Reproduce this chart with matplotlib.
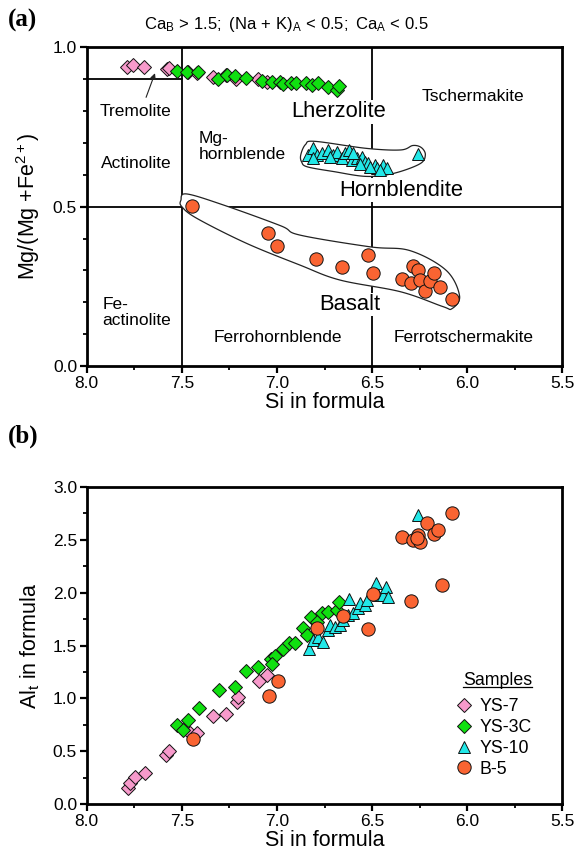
import matplotlib
matplotlib.use("Agg")
import matplotlib.pyplot as plt
import numpy as np
from matplotlib.lines import Line2D
from matplotlib.ticker import MultipleLocator, FormatStrFormatter

plt.rcParams['font.family'] = ['Liberation Sans', 'DejaVu Sans']
plt.rcParams['mathtext.fontset'] = 'custom'
plt.rcParams['mathtext.rm'] = 'Liberation Sans'
plt.rcParams['mathtext.it'] = 'Liberation Sans:italic'

# ---- panel (a): Si vs Mg/(Mg+Fe2+) ----
a_ys7_si = [7.79, 7.755, 7.70, 7.58, 7.565, 7.466, 7.42, 7.334, 7.27, 7.217, 7.10, 7.05]
a_ys7_mg = [0.939, 0.945, 0.937, 0.931, 0.934, 0.922, 0.918, 0.908, 0.913, 0.900, 0.900, 0.892]

a_ys3c_si = [7.527, 7.474, 7.413, 7.308, 7.264, 7.22, 7.164, 7.08, 7.028, 6.984, 6.97,
             6.928, 6.90, 6.847, 6.817, 6.782, 6.73, 6.683, 6.672]
a_ys3c_mg = [0.927, 0.924, 0.922, 0.900, 0.913, 0.910, 0.903, 0.895, 0.892, 0.892, 0.885,
             0.889, 0.889, 0.887, 0.882, 0.889, 0.877, 0.866, 0.880]

a_ys10_si = [6.835, 6.812, 6.791, 6.765, 6.73, 6.704, 6.686, 6.66, 6.642, 6.62, 6.607, 6.581,
             6.555, 6.537, 6.52, 6.485, 6.476, 6.441, 6.423, 6.809, 6.721, 6.598, 6.563,
             6.511, 6.458, 6.257]
a_ys10_mg = [0.662, 0.683, 0.662, 0.667, 0.678, 0.662, 0.673, 0.652, 0.667, 0.678, 0.646, 0.652,
             0.657, 0.641, 0.636, 0.631, 0.620, 0.631, 0.620, 0.652, 0.657, 0.667, 0.634,
             0.626, 0.615, 0.665]

a_b5_si = [7.445, 7.045, 6.998, 6.795, 6.656, 6.523, 6.497, 6.344, 6.283, 6.257, 6.297,
           6.248, 6.222, 6.196, 6.175, 6.143, 6.082]
a_b5_mg = [0.502, 0.416, 0.378, 0.335, 0.310, 0.348, 0.291, 0.272, 0.314, 0.301, 0.261,
           0.270, 0.236, 0.268, 0.293, 0.249, 0.209]

# field outlines drawn round the YS-10 and B-5 groups
hbl_env_si = [6.875, 6.85, 6.80, 6.53, 6.35, 6.285, 6.24, 6.22, 6.25, 6.39, 6.53, 6.70, 6.84, 6.87]
hbl_env_mg = [0.662, 0.695, 0.705, 0.683, 0.678, 0.692, 0.685, 0.662, 0.634, 0.604, 0.595,
              0.610, 0.625, 0.640]
bas_env_si = [7.505, 7.475, 7.28, 6.98, 6.88, 6.51, 6.30, 6.11, 6.04, 6.08, 6.13, 6.35,
              6.67, 6.88, 7.16, 7.42, 7.50]
bas_env_mg = [0.52, 0.54, 0.505, 0.44, 0.411, 0.374, 0.362, 0.30, 0.22, 0.18, 0.187, 0.233,
              0.27, 0.317, 0.385, 0.463, 0.50]

# ---- panel (b): Si vs Al_t ----
b_ys7_si = [7.785, 7.772, 7.746, 7.693, 7.583, 7.566, 7.457, 7.422, 7.334, 7.27, 7.212,
            7.203, 7.094, 7.05]
b_ys7_al = [0.151, 0.199, 0.262, 0.299, 0.466, 0.507, 0.671, 0.671, 0.834, 0.853, 0.970,
            1.017, 1.168, 1.222]

b_ys3c_si = [7.527, 7.492, 7.466, 7.408, 7.304, 7.22, 7.163, 7.098, 7.033, 7.01, 6.97, 6.935,
             6.905, 6.861, 6.844, 6.823, 6.791, 6.765, 6.73, 6.686, 6.672, 7.028]
b_ys3c_al = [0.749, 0.702, 0.797, 0.913, 1.080, 1.105, 1.263, 1.300, 1.373, 1.401, 1.464, 1.527,
             1.521, 1.662, 1.599, 1.772, 1.725, 1.804, 1.820, 1.835, 1.914, 1.325]

b_ys10_si = [6.83, 6.809, 6.782, 6.756, 6.73, 6.721, 6.695, 6.668, 6.651, 6.624, 6.619, 6.598,
             6.572, 6.563, 6.537, 6.524, 6.479, 6.467, 6.441, 6.427, 6.414, 6.257]
b_ys10_al = [1.464, 1.552, 1.584, 1.536, 1.647, 1.694, 1.678, 1.694, 1.741, 1.788, 1.936, 1.804,
             1.851, 1.898, 1.883, 1.930, 2.087, 1.977, 1.977, 2.056, 1.961, 2.732]

b_b5_si = [7.443, 7.043, 6.996, 6.791, 6.655, 6.520, 6.493, 6.295, 6.134, 6.344, 6.283,
           6.257, 6.248, 6.213, 6.175, 6.152, 6.078, 6.266]
b_b5_al = [0.614, 1.023, 1.168, 1.669, 1.782, 1.656, 1.986, 1.920, 2.071, 2.528, 2.496,
           2.544, 2.481, 2.660, 2.553, 2.591, 2.754, 2.512]

samples = ["YS-7", "YS-3C", "YS-10", "B-5"]
markers = ["D", "D", "^", "o"]
sizes = [7.0, 7.0, 8.8, 9.6]
colours = ["#F79ACB", "#10E010", "#22E8E8", "#FA6432"]


def smooth_closed(xs, ys, n=24):
    # closed Catmull-Rom curve through the outline points
    p = np.column_stack([xs, ys])
    k = len(p)
    t = np.linspace(0, 1, n, endpoint=False)[:, None]
    segs = []
    for i in range(k):
        p0, p1, p2, p3 = p[i - 1], p[i], p[(i + 1) % k], p[(i + 2) % k]
        segs.append(0.5 * (2 * p1 + (-p0 + p2) * t + (2 * p0 - 5 * p1 + 4 * p2 - p3) * t ** 2
                           + (-p0 + 3 * p1 - 3 * p2 + p3) * t ** 3))
    return np.vstack(segs)


def style_axes(ax):
    for s in ax.spines.values():
        s.set_linewidth(2.0)
    ax.tick_params(which='both', direction='out', top=False, right=False, labelsize=12.5, pad=2)
    ax.tick_params(which='major', length=5, width=1.6)
    ax.tick_params(which='minor', length=3, width=1.3)
    ax.set_xlim(8.0, 5.5)
    ax.xaxis.set_major_locator(MultipleLocator(0.5))
    ax.xaxis.set_minor_locator(MultipleLocator(0.25))
    ax.xaxis.set_major_formatter(FormatStrFormatter('%.1f'))
    ax.yaxis.set_major_formatter(FormatStrFormatter('%.1f'))
    ax.set_xlabel("Si in formula", fontsize=15.5, labelpad=1)


def main():
    fig = plt.figure(figsize=(5.77, 8.56), dpi=100)

    # ---------- (a) ----------
    ax = fig.add_axes([0.1503, 0.5724, 0.8242, 0.3723])
    style_axes(ax)
    ax.set_ylim(0, 1.0)
    ax.yaxis.set_major_locator(MultipleLocator(0.5))
    ax.yaxis.set_minor_locator(MultipleLocator(0.1))
    ax.set_ylabel(r"Mg/(Mg +Fe$^{2+}$)", fontsize=15.5, labelpad=8)

    lw = 1.3
    ax.plot([8.0, 7.5], [0.9, 0.9], c='k', lw=lw, zorder=1)
    ax.plot([7.5, 7.5], [0, 1], c='k', lw=lw, zorder=1)
    ax.plot([8.0, 5.5], [0.5, 0.5], c='k', lw=lw, zorder=1)
    ax.plot([6.5, 6.5], [0, 1], c='k', lw=lw, zorder=1)

    for xs, ys in [(hbl_env_si, hbl_env_mg), (bas_env_si, bas_env_mg)]:
        c = smooth_closed(xs, ys)
        ax.fill(c[:, 0], c[:, 1], facecolor='white', edgecolor='#222222', lw=0.9, zorder=2)

    small = 12.5
    ax.text(7.741, 0.798, "Tremolite", fontsize=small, ha='center', va='center', zorder=3)
    ax.text(7.737, 0.636, "Actinolite", fontsize=small, ha='center', va='center', zorder=3)
    ax.text(7.916, 0.169, "Fe-\nactinolite", fontsize=small, ha='left', va='center',
            linespacing=1.1, zorder=3)
    ax.text(7.41, 0.688, "Mg-\nhornblende", fontsize=small, ha='left', va='center',
            linespacing=1.1, zorder=3)
    ax.text(5.971, 0.845, "Tschermakite", fontsize=small, ha='center', va='center', zorder=3)
    ax.text(6.994, 0.089, "Ferrohornblende", fontsize=small, ha='center', va='center', zorder=3)
    ax.text(6.02, 0.089, "Ferrotschermakite", fontsize=small, ha='center', va='center', zorder=3)

    big_box = dict(facecolor='white', edgecolor='none', pad=1.0)
    ax.text(6.674, 0.798, "Lherzolite", fontsize=15.8, ha='center', va='center',
            bbox=big_box, zorder=3)
    ax.text(6.344, 0.552, "Hornblendite", fontsize=15.8, ha='center', va='center',
            bbox=big_box, zorder=3)
    ax.text(6.618, 0.193, "Basalt", fontsize=15.8, ha='center', va='center',
            bbox=big_box, zorder=3)

    ax.annotate("", xy=(7.636, 0.927), xytext=(7.693, 0.835),
                arrowprops=dict(arrowstyle='-|>', color='#222222', lw=0.8, mutation_scale=8),
                zorder=3)

    a_sets = [(a_ys7_si, a_ys7_mg), (a_ys3c_si, a_ys3c_mg), (a_ys10_si, a_ys10_mg),
              (a_b5_si, a_b5_mg)]
    for i, (xs, ys) in enumerate(a_sets):
        ax.plot(xs, ys, ls='none', marker=markers[i], ms=sizes[i], mfc=colours[i],
                mec='#111111', mew=0.7, zorder=4 + i, clip_on=False)

    fig.text(287 / 577, 1 - 25 / 856,
             r"$\mathrm{Ca_B\,>\,1.5;\ (Na\,+\,K)_A\,<\,0.5;\ Ca_A\,<\,0.5}$",
             fontsize=12, ha='center', va='center')
    fig.text(8 / 577, 1 - 20 / 856, "(a)", family='Liberation Serif', weight='bold',
             fontsize=18, ha='left', va='center')

    # ---------- (b) ----------
    ax = fig.add_axes([0.1503, 0.0604, 0.8242, 0.3710])
    style_axes(ax)
    ax.set_ylim(0, 3.0)
    ax.yaxis.set_major_locator(MultipleLocator(0.5))
    ax.yaxis.set_minor_locator(MultipleLocator(0.25))
    ax.set_ylabel(r"Al$_\mathrm{t}$ in formula", fontsize=15.5, labelpad=8)

    b_sets = [(b_ys7_si, b_ys7_al), (b_ys3c_si, b_ys3c_al), (b_ys10_si, b_ys10_al),
              (b_b5_si, b_b5_al)]
    handles = []
    for i, (xs, ys) in enumerate(b_sets):
        h, = ax.plot(xs, ys, ls='none', marker=markers[i], ms=sizes[i], mfc=colours[i],
                     mec='#111111', mew=0.7, zorder=4 + i, label=samples[i])
        handles.append(h)

    ax.legend(handles=handles, loc='upper left', bbox_to_anchor=(0.775, 0.335),
              frameon=False, fontsize=12.8, handlelength=1.0, handletextpad=0.35,
              labelspacing=0.22, borderpad=0, borderaxespad=0)

    t = ax.text(0.864, 0.391, "Samples", fontsize=12.8, ha='center', va='center',
                transform=ax.transAxes)
    fig.canvas.draw()
    bb = t.get_window_extent().transformed(ax.transAxes.inverted())
    ax.add_line(Line2D([bb.x0, bb.x1], [bb.y0 + 0.004, bb.y0 + 0.004], lw=0.9, c='k',
                       transform=ax.transAxes))

    fig.text(8 / 577, 1 - 436 / 856, "(b)", family='Liberation Serif', weight='bold',
             fontsize=18, ha='left', va='center')

    fig.savefig("out.png", dpi=100)


if __name__ == "__main__":
    main()
